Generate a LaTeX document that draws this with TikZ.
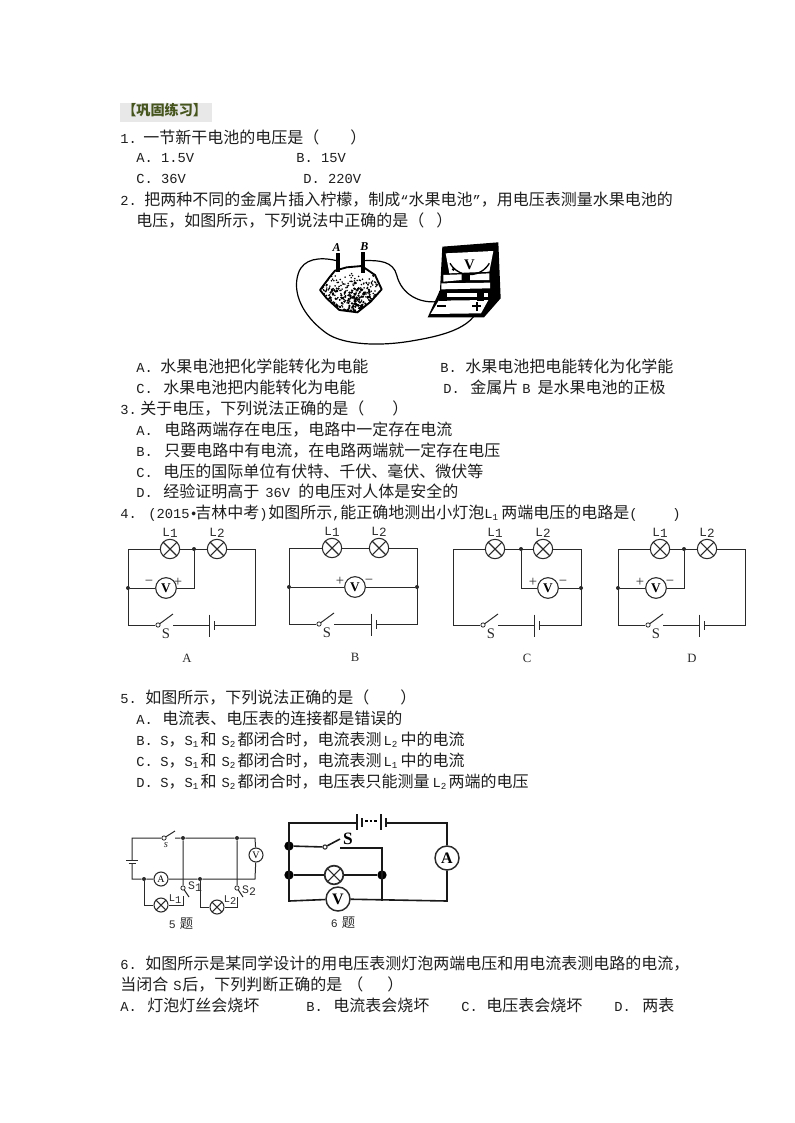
\documentclass[tikz,border=0pt]{standalone}
\usepackage{fontspec}
\setmainfont{Noto Sans CJK SC}
\newfontfamily\lat{Liberation Mono}[Scale=0.86]
\newfontfamily\ser{Liberation Serif}
\newlength{\pxu}\setlength{\pxu}{0.75pt}
\newcommand{\W}[2]{\makebox[#1\pxu][l]{#2}}
\newcommand{\la}[1]{{\lat #1}}
\newcommand{\sbs}[1]{\raisebox{-2.2pt}{\fontsize{8}{8}\selectfont\lat #1}}
\newcommand{\gap}[1]{\hspace*{#1\pxu}}
\newcommand{\Ssub}[1]{\W{16}{\la{S}\sbs{#1}}}
\newcommand{\Lsub}[1]{\W{17}{\la{L}\sbs{#1}}}
\newcommand{\tx}[4]{\node[txt] (#1) at (#2,#3) {#4};}
\definecolor{ink}{HTML}{1E1E1E}
\definecolor{wire}{HTML}{2A2A2A}
\tikzset{
  txt/.style={anchor=base west,inner sep=0pt,yshift=-0.75pt,text=ink,font=\fontsize{12}{14}\selectfont},
  small/.style={inner sep=0pt,text=wire},
  wirepath/.style={draw=wire,line width=0.75pt},
  lampbox/.style={circle,draw=wire,line width=0.8pt,minimum size=14.5pt,inner sep=0pt,fill=white,
    path picture={\draw[wire,line width=0.8pt] (path picture bounding box.north west)--(path picture bounding box.south east)
      (path picture bounding box.north east)--(path picture bounding box.south west);}},
  meterbox/.style={circle,draw=wire,line width=0.8pt,minimum size=15.5pt,inner sep=0pt,fill=white,font=\ser\bfseries\fontsize{10}{10}\selectfont},
  smallmeter/.style={meterbox,minimum size=10.5pt,font=\ser\fontsize{7.5}{8}\selectfont},
  bigmeter/.style={meterbox,line width=1.1pt,minimum size=18pt,font=\ser\bfseries\fontsize{12}{12}\selectfont},
  smalllamp/.style={lampbox,minimum size=10.5pt},
  biglamp/.style={lampbox,line width=1.3pt,minimum size=14pt},
  contact/.style={circle,draw=wire,line width=0.6pt,minimum size=3.2pt,inner sep=0pt,fill=white},
  dotnode/.style={circle,fill=wire,minimum size=3pt,inner sep=0pt},
  bigdot/.style={circle,fill=black,minimum size=7pt,inner sep=0pt},
  signbox/.style={small,font=\ser\fontsize{11}{11}\selectfont},
}
% p, xleft, xright, xL1, xL2, xswitch, xbattery, xletter, letter
\newcommand{\Cct}[9]{
  \coordinate (#1tl) at (#2,549); \coordinate (#1tr) at (#3,549);
  \coordinate (#1bl) at (#2,625); \coordinate (#1br) at (#3,625);
  \node[lampbox] (#1La) at (#4,549) {};
  \node[lampbox] (#1Lb) at (#5,549) {};
  \node[small,font=\lat\fontsize{11}{11}\selectfont] (#1La-t) at (#4,533) {L\raisebox{-0.5pt}{1}};
  \node[small,font=\lat\fontsize{11}{11}\selectfont] (#1Lb-t) at (#5,533) {L\raisebox{-0.5pt}{2}};
  \node[contact] (#1sw) at (#6,625) {};
  \coordinate (#1arm) at ($(#6,625)+(15,-11)$);
  \coordinate (#1sr) at ($(#6,625)+(15,0)$);
  \coordinate (#1pa) at (#7,625);
  \coordinate (#1pb) at ($(#7,625)+(5,0)$);
  \node[small,font=\ser\fontsize{11}{11}\selectfont] (#1S) at ($(#6,634)+(8,0)$) {S};
  \node[small,font=\ser\fontsize{9.5}{10}\selectfont] (#1name) at (#8,658) {#9};
  \draw[wirepath] (#1La) -- (#1tl) -- (#1bl) -- (#1sw);
  \draw[wirepath] (#1La) -- (#1Lb);
  \draw[wirepath] (#1Lb) -- (#1tr) -- (#1br) -- (#1pb);
  \draw[wirepath] (#1sw) -- (#1arm);
  \draw[wirepath] (#1sr) -- (#1pa);
  \draw[wirepath] ($(#1pa)+(0,-10.5)$) -- ($(#1pa)+(0,11.5)$);
  \draw[wirepath] ($(#1pb)+(0,-4)$) -- ($(#1pb)+(0,5)$);
}
\usetikzlibrary{calc}
\begin{document}
\begin{tikzpicture}[x=0.75pt,y=-0.75pt]
\useasboundingbox (0,0) rectangle (794,1123);
\fill[white] (0,0) rectangle (794,1123);
% header
\fill[black!9] (120,103) rectangle (212,122);
\node[txt,yshift=0.75pt,text={rgb,255:red,70;green,85;blue,30},font=\bfseries\fontsize{10.6}{12}\selectfont] (head) at (122,116) {【巩固练习】};
% question text
\tx{q1}{120}{143}{\W{23}{\la{1.}}一节新干电池的电压是（\gap{31}）}
\tx{q1a}{136}{162}{\la{A. 1.5V}}
\tx{q1b}{296}{162}{\la{B. 15V}}
\tx{q1c}{136}{183}{\la{C. 36V}}
\tx{q1d}{303}{183}{\la{D. 220V}}
\tx{q2}{120}{205}{\W{24}{\la{2.}}把两种不同的金属片插入柠檬，制成\la{“}水果电池\la{”}，用电压表测量水果电池的}
\tx{q2b}{136}{226}{电压，如图所示，下列说法中正确的是（\gap{12}）}
\tx{q2ca}{136}{371}{\W{24}{\la{A.}}水果电池把化学能转化为电能}
\tx{q2cb}{440}{371}{\W{25}{\la{B.}}水果电池把电能转化为化学能}
\tx{q2cc}{136}{392}{\W{27}{\la{C.}}水果电池把内能转化为电能}
\tx{q2cd}{443}{392}{\W{27}{\la{D.}}金属片\gap{4}\la{B}\gap{7}是水果电池的正极}
\tx{q3}{120}{413}{\W{20}{\la{3.}}关于电压，下列说法正确的是（\gap{28}）}
\tx{q3a}{136}{434}{\W{28}{\la{A.}}电路两端存在电压，电路中一定存在电流}
\tx{q3b}{136}{455}{\W{28}{\la{B.}}只要电路中有电流，在电路两端就一定存在电压}
\tx{q3c}{136}{476}{\W{27}{\la{C.}}电压的国际单位有伏特、千伏、毫伏、微伏等}
\tx{q3d}{136}{496}{\W{27}{\la{D.}}经验证明高于\gap{6}\W{33}{\la{36V}}的电压对人体是安全的}
\tx{q4}{120}{517}{\W{28}{\la{4.}}\W{47}{\la{(2015•}}吉林中考\W{9}{\la{)}}如图所示\W{8}{\la{,}}能正确地测出小灯泡\W{17}{\la{L}\sbs{1}}两端电压的电路是\W{43}{\la{(}}\la{)}}
\tx{q5}{120}{702}{\W{25}{\la{5.}}如图所示，下列说法正确的是（\gap{31}）}
\tx{q5a}{136}{723}{\W{26}{\la{A.}}电流表、电压表的连接都是错误的}
\tx{q5b}{136}{744}{\W{24}{\la{B.}}\la{S}，\Ssub{1}和\gap{5}\Ssub{2}都闭合时，电流表测\gap{2}\Lsub{2}中的电流}
\tx{q5c}{136}{765}{\W{24}{\la{C.}}\la{S}，\Ssub{1}和\gap{5}\Ssub{2}都闭合时，电流表测\gap{2}\Lsub{1}中的电流}
\tx{q5d}{136}{786}{\W{24}{\la{D.}}\la{S}，\Ssub{1}和\gap{5}\Ssub{2}都闭合时，电压表只能测量\gap{3}\W{16}{\la{L}\sbs{2}}两端的电压}
\tx{q6}{120}{968}{\W{25}{\la{6.}}如图所示是某同学设计的用电压表测灯泡两端电压和用电流表测电路的电流，}
\tx{q6b}{120}{989}{当闭合\gap{5}\W{9}{\la{S}}后，下列判断正确的是\gap{5}（\gap{24}）}
\tx{q6ca}{120}{1010}{\W{27}{\la{A.}}灯泡灯丝会烧坏}
\tx{q6cb}{306}{1010}{\W{27}{\la{B.}}电流表会烧坏}
\tx{q6cc}{461}{1010}{\W{25}{\la{C.}}电压表会烧坏}
\tx{q6cd}{614}{1010}{\W{28}{\la{D.}}两表}
% fruit battery
\begin{scope}[shift={(280,230)},x=0.25pt,y=-0.25pt]
  \path[clip] (120,180)--(150,140)--(165,122)--(200,112)--(245,108)--(285,135)--(305,178)--(272,215)--(232,247)--(178,240)--(140,205)--cycle;
  \pgfmathsetseed{42}
  \foreach \i in {1,...,260}{
    \pgfmathsetmacro{\dx}{120+rnd*185}
    \pgfmathsetmacro{\dy}{150+rnd*rnd*(-1)*40+rnd*95}
    \fill[black] (\dx,\dy) circle (2.6);
  }
  \foreach \i in {1,...,110}{
    \pgfmathsetmacro{\dx}{150+rnd*120}
    \pgfmathsetmacro{\dy}{175+rnd*70}
    \fill[black] (\dx,\dy) circle (3.8);
  }
\end{scope}
\begin{scope}[shift={(280,230)},x=0.25pt,y=-0.25pt]
  \draw[black,line width=1.4pt,line join=round] (120,180)--(150,140)--(165,122)--(200,112)--(245,108)--(285,135)--(305,178)--(272,215)--(232,247)--(178,240)--(140,205)--cycle;
  \fill[black] (168,68) rectangle (180,125);
  \fill[black] (242,66) rectangle (254,130);
  \node[small,text=black,font=\ser\bfseries\itshape\fontsize{9}{9}\selectfont] (elA) at (170,52) {A};
  \node[small,text=black,font=\ser\bfseries\itshape\fontsize{9}{9}\selectfont] (elB) at (253,50) {B};
  \coordinate (wA) at (170,92); \coordinate (wB) at (252,92);
  \coordinate (tplus) at (600,215); \coordinate (tminus) at (470,215);
  \draw[black,line width=0.9pt] (wA) .. controls (120,80) and (70,85) .. (55,130) .. controls (35,190) and (70,260) .. (140,310) .. controls (190,345) and (300,350) .. (400,332) .. controls (500,315) and (590,290) .. (tplus);
  \draw[black,line width=0.9pt] (wB) .. controls (300,90) and (340,95) .. (350,135) .. controls (365,195) and (420,220) .. (tminus);
  % voltmeter
  \fill[black] (487,50)--(655,37)--(662,205)--(612,262)--(443,262)--(480,180)--cycle;
  \fill[white] (497,70)--(640,63)--(628,125)--(508,130)--cycle;
  \fill[white] (490,135)--(545,133)--(545,150)--(490,155)--cycle;
  \fill[white] (570,133)--(628,130)--(628,150)--(570,150)--cycle;
  \fill[white] (484,160)--(630,158)--(630,175)--(484,178)--cycle;
  \fill[white] (500,190)--(625,190)--(625,200)--(500,200)--cycle;
  \fill[white] (476,212)--(625,210)--(603,250)--(452,252)--cycle;
  \draw[black,line width=1pt] (510,100) arc (150:30:68);
  \fill[black] (520,118) circle (5);
  \node[small,text=black,font=\ser\bfseries\fontsize{11}{11}\selectfont] (vlab) at (568,105) {V};
  \fill[black] (478,183) rectangle (500,212);
  \fill[black] (590,180) rectangle (612,212);
  \fill[black] (470,226) rectangle (498,232);
  \fill[black] (577,226) rectangle (603,232);
  \fill[black] (587,215) rectangle (593,243);
\end{scope}
% circuits A-D
\Cct{a}{128}{255}{170}{217}{158}{209}{187}{A}
\node[meterbox] (aV) at (166,588) {V};
\node[dotnode] (aD1) at (128,588) {}; \node[dotnode] (aD2) at (194,549) {};
\coordinate (aC) at (194,588);
\draw[wirepath] (aD1) -- (aV) -- (aC) -- (aD2);
\node[signbox] (am) at (149,583) {−};
\node[signbox] (ap) at (178,582) {+};

\begin{scope}[yshift=0.75pt]
\Cct{b}{289}{417}{332}{379}{319}{371}{355}{B}
\node[meterbox] (bV) at (355,588) {V};
\node[dotnode] (bD1) at (289,588) {}; \node[dotnode] (bD2) at (417,588) {};
\draw[wirepath] (bD1) -- (bV) -- (bD2);
\node[signbox] (bp) at (340,582) {+};
\node[signbox] (bm) at (369,583) {−};
\end{scope}

\Cct{c}{453}{581}{495}{543}{483}{534}{527}{C}
\node[meterbox] (cV) at (548,588) {V};
\node[dotnode] (cD1) at (521,549) {}; \node[dotnode] (cD2) at (581,588) {};
\coordinate (cC) at (521,588);
\draw[wirepath] (cD1) -- (cC) -- (cV) -- (cD2);
\node[signbox] (cp) at (533,582) {+};
\node[signbox] (cm) at (563,583) {−};

\Cct{d}{618}{745}{660}{707}{648}{699}{692}{D}
\node[meterbox] (dV) at (656,588) {V};
\node[dotnode] (dD1) at (618,588) {}; \node[dotnode] (dD2) at (684,549) {};
\coordinate (dC) at (684,588);
\draw[wirepath] (dD1) -- (dV) -- (dC) -- (dD2);
\node[signbox] (dp) at (640,582) {+};
\node[signbox] (dm) at (670,583) {−};

% circuit for question 5
\coordinate (vTL) at (132,838); \coordinate (vTR) at (255,838);
\coordinate (vBL) at (132,879); \coordinate (vBR) at (255,879);
\coordinate (vP1) at (132,860); \coordinate (vP2) at (132,863);
\node[contact] (vSW) at (164,838) {};
\coordinate (vArm) at (175,831); \coordinate (vSR) at (175,838);
\node[dotnode] (vD1) at (183,838) {}; \node[dotnode] (vD2) at (237,838) {};
\node[smallmeter] (vV) at (256,855) {V};
\node[smallmeter] (vA) at (161,879) {A};
\node[dotnode] (vD3) at (144,879) {}; \node[dotnode] (vD4) at (200,879) {};
\node[contact] (vS1) at (183,888) {}; \coordinate (vS1a) at (189,897); \coordinate (vS1b) at (183,896);
\node[contact] (vS2) at (237,888) {}; \coordinate (vS2a) at (243,897); \coordinate (vS2b) at (237,897);
\node[smalllamp] (vL1) at (161,905) {}; \node[smalllamp] (vL2) at (217,907) {};
\coordinate (vC1) at (183,905); \coordinate (vC2) at (144,905);
\coordinate (vC3) at (237,907); \coordinate (vC4) at (200,907);
\draw[wirepath] (vP1) -- (vTL) -- (vSW) -- (vArm);
\draw[wirepath] (vSR) -- (vD1) -- (vD2) -- (vTR) -- (vV) -- (vBR) -- (vD4) -- (vA) -- (vD3) -- (vBL) -- (vP2);
\draw[wirepath] (126,860) -- (138,860) (128.5,863) -- (135.5,863);
\draw[wirepath] (vD1) -- (vS1) -- (vS1a);
\draw[wirepath] (vS1b) -- (vC1) -- (vL1) -- (vC2) -- (vD3);
\draw[wirepath] (vD2) -- (vS2) -- (vS2a);
\draw[wirepath] (vS2b) -- (vC3) -- (vL2) -- (vC4) -- (vD4);
\node[small,font=\ser\itshape\fontsize{8}{8}\selectfont] (vs) at (166,845) {s};
\node[small,font=\lat\fontsize{9}{9}\selectfont] (vl1) at (175,899) {L\raisebox{-1.5pt}{1}};
\node[small,font=\lat\fontsize{9}{9}\selectfont] (vl2) at (230,900) {L\raisebox{-1.5pt}{2}};
\node[small,font=\lat\fontsize{10}{10}\selectfont] (vt1) at (195,887) {S\raisebox{-1.5pt}{1}};
\node[small,font=\lat\fontsize{10}{10}\selectfont] (vt2) at (249,891) {S\raisebox{-1.5pt}{2}};
\node[small,font=\fontsize{10}{10}\selectfont] (vcap) at (181,924) {\la{5}\gap{4}题};

% circuit for question 6
\tikzset{thick6/.style={draw=black!90,line width=1.2pt}}
\coordinate (xTL) at (289,823); \coordinate (xTR) at (447,823);
\coordinate (xBL) at (289,901); \coordinate (xBR) at (447,901);
\coordinate (xP1) at (357,823); \coordinate (xP4) at (386,823);
\node[bigmeter] (xA) at (447,858) {A};
\node[bigmeter] (xV) at (338,899) {V};
\node[biglamp] (xL) at (334,875) {};
\node[bigdot] (xD1) at (289,846) {}; \node[bigdot] (xD2) at (289,875) {}; \node[bigdot] (xD3) at (382,875) {};
\node[contact,line width=0.8pt] (xSW) at (325,847) {};
\coordinate (xArm) at (340,839); \coordinate (xSR) at (340,848); \coordinate (xC1) at (382,848); \coordinate (xC2) at (382,901);
\draw[thick6] (xP1) -- (xTL) -- (xBL) -- (xV);
\draw[thick6] (xV) -- (xBR) -- (xA) -- (xTR) -- (xP4);
\draw[thick6] (xD1) -- (xSW) -- (xArm);
\draw[thick6] (xSR) -- (xC1) -- (xC2);
\draw[thick6] (xD2) -- (xL) -- (xD3);
\draw[thick6] (357,814) -- (357,830) (381,814) -- (381,830);
\draw[thick6] (362,818) -- (362,827) (386,818) -- (386,827);
\draw[black,line width=0.8pt,dash pattern=on 2pt off 1.5pt] (365,821) -- (379,821);
\node[small,text=black,font=\ser\bfseries\fontsize{13}{13}\selectfont] (xS) at (348,839) {S};
\node[small,font=\fontsize{10}{10}\selectfont] (xcap) at (343,923) {\la{6}\gap{4}题};
\end{tikzpicture}
\end{document}
